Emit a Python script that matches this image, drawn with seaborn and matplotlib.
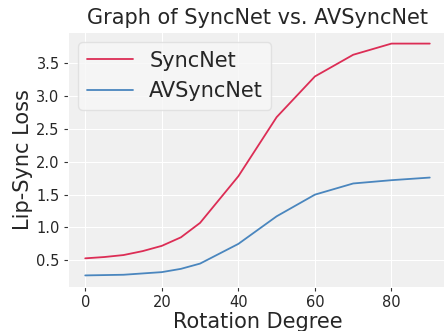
import pandas as pd
import matplotlib
matplotlib.use("Agg")
import matplotlib.pyplot as plt
import seaborn as sns

# Valeurs
degrees = [0, 5, 10, 15, 20, 25, 30, 40, 50, 60, 70, 80, 90]
syncnet = [0.53, 0.55, 0.58, 0.64, 0.72, 0.85, 1.07, 1.78, 2.68, 3.30, 3.63, 3.80, 3.80]
avsyncnet = [0.27, 0.275, 0.28, 0.30, 0.32, 0.37, 0.45, 0.75, 1.17, 1.50, 1.67, 1.72, 1.76]
series_names = ["SyncNet", "AVSyncNet"]
colors = ["#DC2D55", "#4A86BE"]

df = pd.DataFrame({
    "degree": degrees * 2,
    "loss": syncnet + avsyncnet,
    "model": [series_names[0]] * len(degrees) + [series_names[1]] * len(degrees),
})

sns.set_style("darkgrid", {"axes.facecolor": "#f0f0f0", "grid.color": "white"})
plt.rcParams["font.family"] = ["DejaVu Sans"]

fig = plt.figure(figsize=(4.44, 3.31), dpi=100)
ax = fig.add_axes([68 / 444, 1 - 287 / 331, (447 - 68) / 444, (287 - 32) / 331])

sns.lineplot(data=df, x="degree", y="loss", hue="model", palette=colors,
             linewidth=1.3, ax=ax)

ax.set_title("Graph of SyncNet vs. AVSyncNet", fontsize=15, pad=6)
ax.set_xlabel("Rotation Degree", fontsize=15, labelpad=1)
ax.set_ylabel("Lip-Sync Loss", fontsize=15, labelpad=2)
ax.set_xticks([0, 20, 40, 60, 80])
ax.set_yticks([0.5, 1.0, 1.5, 2.0, 2.5, 3.0, 3.5])
ax.tick_params(axis="both", labelsize=10.5, length=3, width=0.8, color="#333333",
               left=True, bottom=True, pad=3)
ax.legend(title=None, fontsize=15, loc="upper left", frameon=True,
          facecolor="#f7f7f7", edgecolor="#dddddd", borderaxespad=0.5,
          handlelength=2.2)

fig.savefig("out.png", dpi=100)
